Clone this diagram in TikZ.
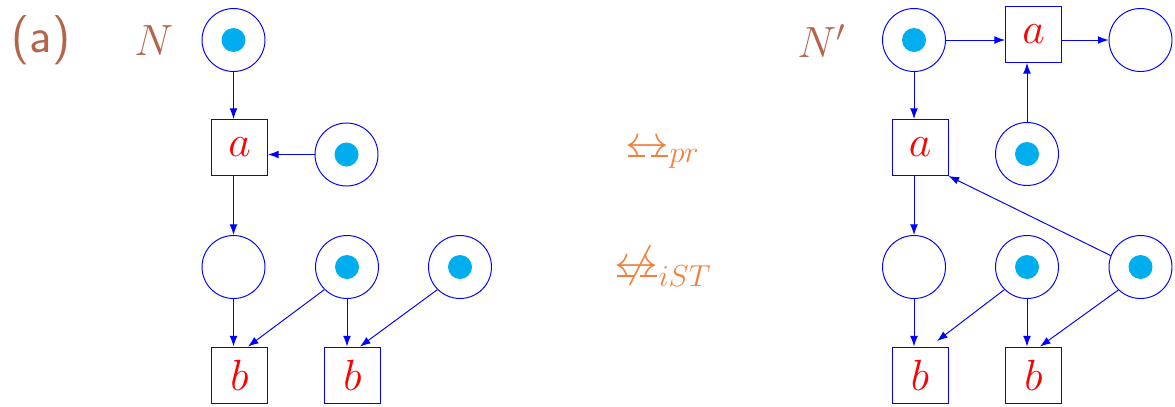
\documentclass[tikz,border=0pt]{standalone}
\usetikzlibrary{arrows.meta}
\definecolor{tokcol}{HTML}{00AEEF}
\definecolor{relcol}{RGB}{242,128,60}
\definecolor{labcol}{RGB}{180,100,75}
\newcommand{\dashbis}{\mathrel{\ooalign{$\leftrightarrow$\cr\hidewidth\rule[-0.02em]{0.39em}{0.045em}\hspace{0.14em}\rule[-0.02em]{0.39em}{0.045em}\hidewidth\cr}}}
\newcommand{\notdashbis}{\mathrel{\ooalign{$\leftrightarrow$\cr\hidewidth\rule[-0.02em]{0.39em}{0.045em}\hspace{0.14em}\rule[-0.02em]{0.39em}{0.045em}\hidewidth\cr\kern0.2em$\not$\hfil\cr}}}
\tikzset{
  place/.style={circle, draw=blue, line width=0.55pt, minimum size=1.26cm, inner sep=0pt},
  marked/.style={place, path picture={\fill[tokcol] (path picture bounding box.center) circle (0.24cm);}},
  trans/.style={rectangle, draw=blue, line width=0.55pt, minimum size=1.12cm, inner sep=0pt,
    text=red, font=\fontsize{25}{30}\selectfont},
  arc/.style={draw=blue, line width=0.55pt, -{Latex[length=6pt,width=4.4pt]}},
  netlab/.style={text=labcol, font=\fontsize{25}{30}\selectfont, inner sep=0pt},
  rel/.style={text=relcol, font=\fontsize{25}{30}\selectfont, inner sep=0pt, anchor=base west}
}
\begin{document}
\begin{tikzpicture}[x=0.02cm, y=-0.02cm]
\useasboundingbox (0,0) rectangle (1175,406);
% labels
\node[netlab, font=\fontsize{24.88}{30}\selectfont\sffamily, scale=1.13] (lab) at (41,40) {(a)};
\node[netlab, anchor=base west] (nN) at (134,55) {$N$};
\node[netlab, anchor=base west] (nNp) at (797,57) {$N'$};
\node[rel] (r1) at (625.5,156) {$\dashbis_{pr}$};
\node[rel] (r2) at (614.5,276) {$\notdashbis_{iST}$};
% left net
\node[marked] (p1) at (233.5,40) {};
\node[trans] (ta) at (239.5,147.5) {$a$};
\node[marked] (p2) at (346.5,154.5) {};
\node[place] (p3) at (233.5,267) {};
\node[marked] (p4) at (347,267) {};
\node[marked] (p5) at (460,267) {};
\node[trans] (b1) at (239.5,375) {$b$};
\node[trans] (b2) at (352.5,375) {$b$};
\draw[arc] (p1.south) -- (p1.south |- ta.north);
\draw[arc] (p2.west) -- (p2.west -| ta.east);
\draw[arc] (ta.south -| p3) -- (p3.north);
\draw[arc] (p3.south) -- (p3.south |- b1.north);
\draw[arc] (p4.225) -- ([xshift=0.17cm]b1.north);
\draw[arc] (p4.south) -- (p4.south |- b2.north);
\draw[arc] (p5.225) -- ([xshift=0.15cm]b2.north);
% right net
\node[marked] (q1) at (914,40) {};
\node[trans] (ta2) at (1033.5,34.5) {$a$};
\node[place] (q2) at (1140.5,40) {};
\node[trans] (ta3) at (920,147.5) {$a$};
\node[marked] (q3) at (1027,154) {};
\node[place] (q4) at (914,267) {};
\node[marked] (q6) at (1027,267) {};
\node[marked] (q5) at (1140.5,267) {};
\node[trans] (b3) at (920,375) {$b$};
\node[trans] (b4) at (1033.5,375) {$b$};
\draw[arc] (q1.east) -- (q1.east -| ta2.west);
\draw[arc] (q2.west -| ta2.east) -- (q2.west);
\draw[arc] (q3.north) -- (q3.north |- ta2.south);
\draw[arc] (q1.south) -- (q1.south |- ta3.north);
\draw[arc] (q5.159) -- (ta3.south east);
\draw[arc] (ta3.south -| q4) -- (q4.north);
\draw[arc] (q4.south) -- (q4.south |- b3.north);
\draw[arc] (q6.225) -- ([xshift=0.34cm,yshift=0.11cm]b3.north);
\draw[arc] (q6.south) -- (q6.south |- b4.north);
\draw[arc] (q5.226) -- ([xshift=0.13cm]b4.north);
\end{tikzpicture}
\end{document}
